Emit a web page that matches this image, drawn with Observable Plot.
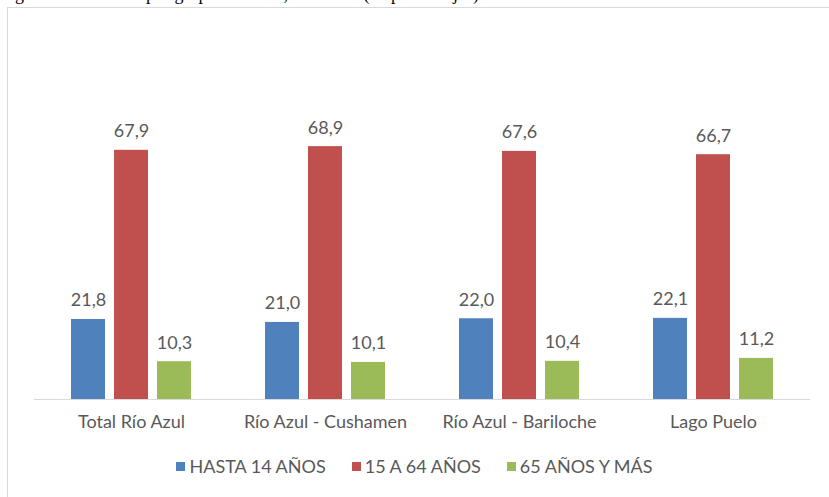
<!DOCTYPE html>
<html>
<head>
<meta charset="utf-8">
<script src="https://cdn.jsdelivr.net/npm/d3@7"></script>
<script src="https://cdn.jsdelivr.net/npm/@observablehq/plot@0.6"></script>
<style>
  html, body { margin: 0; padding: 0; background: #fff; width: 829px; height: 497px; overflow: hidden; position: relative; }
  #title { position: absolute; left: 0; top: -16px; white-space: nowrap; font-family: "Liberation Serif", "DejaVu Serif", serif; font-size: 18px; color: #000; }
  #frame { position: absolute; left: 7px; top: 7px; width: 900px; height: 600px; border: 1px solid #d9d9d9; }
  #chart { position: absolute; left: 0; top: 0; }
  #legend { position: absolute; left: 0; top: 455px; width: 829px; display: flex; justify-content: center; font-family: Lato, "Open Sans", sans-serif; font-size: 18px; color: #595959; }
  .item { display: flex; align-items: center; margin: 0 13px; }
  .sw { width: 9px; height: 9px; margin-right: 4px; }
</style>
</head>
<body>
<div id="title">Figura 4. Población por grupos de edad, año 2010 (en porcentajes)</div>
<div id="frame"></div>
<div id="chart"></div>
<div id="legend"></div>
<script>
const categories = ["Total Río Azul", "Río Azul - Cushamen", "Río Azul - Bariloche", "Lago Puelo"];
const series = ["HASTA 14 AÑOS", "15 A 64 AÑOS", "65 AÑOS Y MÁS"];
const hasta14 = [21.8, 21.0, 22.0, 22.1];
const de15a64 = [67.9, 68.9, 67.6, 66.7];
const mas65 = [10.3, 10.1, 10.4, 11.2];
const colors = ["#4f81bd", "#c0504d", "#9bbb59"];

const valuesBySeries = [hasta14, de15a64, mas65];
const data = [];
categories.forEach((c, i) => {
  series.forEach((s, j) => data.push({cat: c, serie: s, value: valuesBySeries[j][i]}));
});
const fmt = v => v.toFixed(1).replace(".", ",");

const plot = Plot.plot({
  width: 829,
  height: 444,
  marginLeft: 33,
  marginRight: 18,
  marginTop: 32,
  marginBottom: 45,
  style: {fontFamily: "Lato, 'Open Sans', sans-serif", fontSize: "18px", color: "#595959", background: "transparent"},
  fx: {domain: categories, padding: 0, label: null, axis: "bottom", tickSize: 0, tickPadding: 16},
  x: {domain: series, axis: null, paddingInner: 0.218, paddingOuter: 0.842},
  y: {domain: [0, 100], axis: null},
  color: {domain: series, range: colors},
  marks: [
    Plot.barY(data, {fx: "cat", x: "serie", y: "value", fill: "serie"}),
    Plot.ruleY([0], {stroke: "#d9d9d9", strokeWidth: 1}),
    Plot.text(data, {fx: "cat", x: "serie", y: "value", text: d => fmt(d.value), lineAnchor: "bottom", dy: -13, fill: "#595959", fontSize: 18})
  ]
});
document.getElementById("chart").appendChild(plot);

const legend = document.getElementById("legend");
series.forEach((s, j) => {
  const item = document.createElement("div");
  item.className = "item";
  const sw = document.createElement("div");
  sw.className = "sw";
  sw.style.background = colors[j];
  const t = document.createElement("span");
  t.textContent = s;
  item.appendChild(sw);
  item.appendChild(t);
  legend.appendChild(item);
});
</script>
</body>
</html>
